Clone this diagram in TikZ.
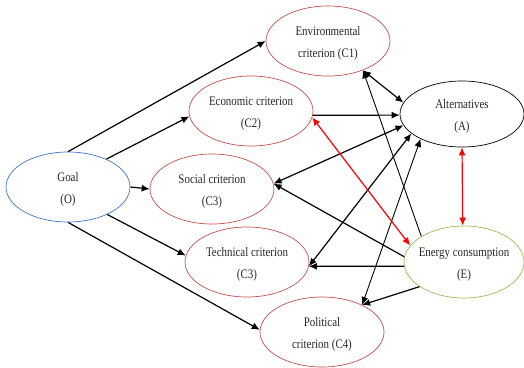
\documentclass[tikz,border=0pt]{standalone}
\usepackage{fontspec}
\setmainfont{Liberation Serif}[FakeStretch=0.84]
\usetikzlibrary{shapes.geometric,arrows.meta}
\definecolor{cblue}{RGB}{68,114,196}
\definecolor{cred}{RGB}{192,80,77}
\definecolor{cgreen}{RGB}{155,187,89}
\begin{document}
\begin{tikzpicture}[x=1pt,y=-1pt,
  ell/.style={ellipse,draw,line width=0.7pt,minimum width=124pt,minimum height=70pt,inner sep=0pt},
  txt/.style={align=center,font=\fontsize{13}{22}\selectfont,text=black!85,yshift=-2.5pt},
  arr/.style={line width=1.2pt,-{Latex[length=8pt,width=7pt]}},
  darr/.style={line width=1.2pt,{Latex[length=8pt,width=7pt]}-{Latex[length=8pt,width=7pt]}},
  rarr/.style={darr,red}]
\useasboundingbox (0,0) rectangle (524,367);
% ellipses
\node[ell,draw=cblue] (O) at (68,187) {};
\node[ell,draw=cred] (C1) at (328,41) {};
\node[ell,draw=cred] (C2) at (251,111) {};
\node[ell,draw=cred] (C3) at (212,189) {};
\node[ell,draw=cred] (T) at (247,262) {};
\node[ell,draw=cred] (P) at (322,332) {};
\node[ell,draw=black,minimum height=66pt] (A) at (462,114) {};
\node[ell,draw=cgreen,minimum width=120pt,minimum height=72pt] (E) at (464,262) {};
% texts
\node[txt] (Ot) at (O) {Goal\\(O)};
\node[txt] (C1t) at (C1) {Environmental\\criterion (C1)};
\node[txt] (C2t) at (C2) {Economic criterion\\(C2)};
\node[txt] (C3t) at (C3) {Social criterion\\(C3)};
\node[txt] (Tt) at (T) {Technical criterion\\(C3)};
\node[txt] (Pt) at (P) {Political\\criterion (C4)};
\node[txt] (At) at (A) {Alternatives\\(A)};
\node[txt] (Et) at (E) {Energy consumption\\(E)};
% goal arrows
\draw[arr] (O.north) -- (C1.west);
\draw[arr] (O.36) -- (C2.185);
\draw[arr] (O.east) -- (C3.west);
\draw[arr] (O.-35) -- (T.174);
\draw[arr] (O.south) -- (P.178);
% criteria and alternatives
\draw[darr] (C1.-40) -- (A.169);
\draw[arr] (C2.-4) -- (A.181);
\draw[darr] (C3.5) -- (A.191);
\draw[darr] (T.-4) -- (A.201);
\draw[darr,line width=0.9pt] (P.34) -- (A.211);
% energy arrows
\draw[arr,line width=0.9pt] (E.149) -- (C1.-40);
\draw[arr] (E.175) -- (C3.5);
\draw[arr] (E.184) -- (T.-4);
\draw[arr] (E.209) -- (P.34);
% red
\draw[rarr] (C2.-6) -- (E.163);
\draw[rarr] (A.-90) -- (E.92);
\end{tikzpicture}
\end{document}
